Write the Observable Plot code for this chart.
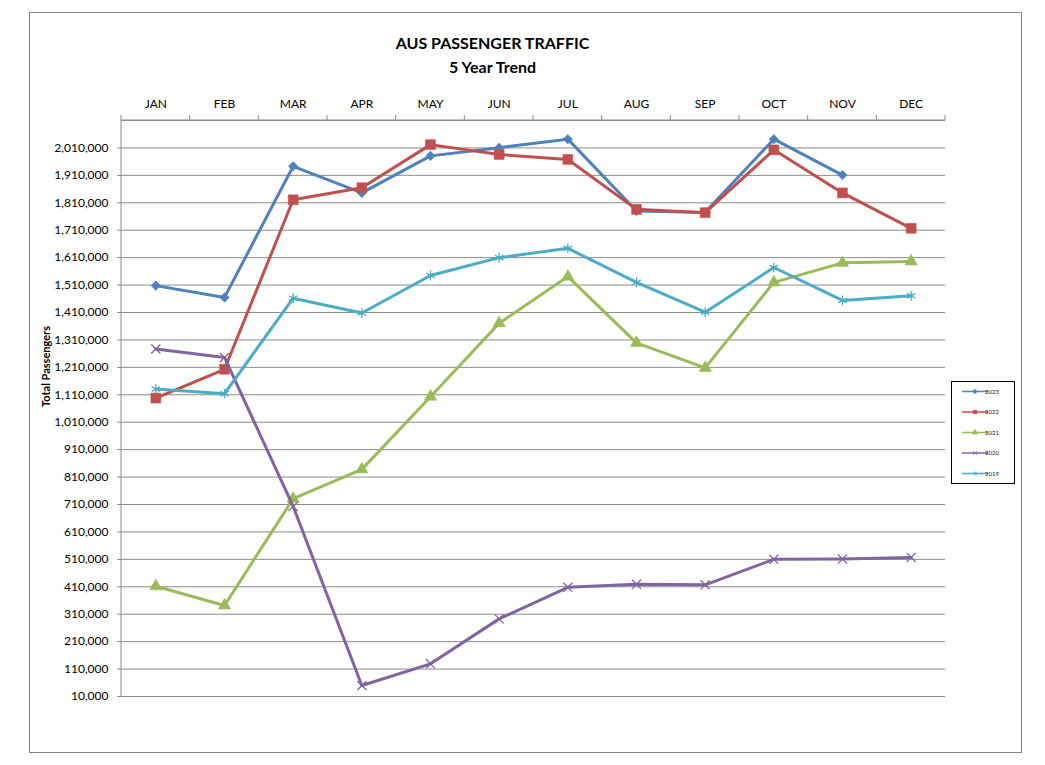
<!DOCTYPE html>
<html><head><meta charset="utf-8">
<script src="https://cdn.jsdelivr.net/npm/d3@7"></script>
<script src="https://cdn.jsdelivr.net/npm/@observablehq/plot@0.6"></script>
<style>body{margin:0;background:#fff}</style>
</head><body><div id="chart"></div>
<script>
const months = ["JAN","FEB","MAR","APR","MAY","JUN","JUL","AUG","SEP","OCT","NOV","DEC"];
const years = ["2023","2022","2021","2020","2019"];
const v2023 = [1508000,1465000,1943000,1846000,1981000,2011000,2042000,1780000,1775000,2042000,1911000,null];
const v2022 = [1098000,1203000,1821000,1865000,2022000,1986000,1968000,1786000,1774000,2003000,1846000,1717000];
const v2021 = [412000,342000,731000,838000,1103000,1371000,1541000,1299000,1208000,1520000,1591000,1596000];
const v2020 = [1277000,1246000,703000,50000,129000,293000,408000,419000,417000,510000,511000,517000];
const v2019 = [1131000,1114000,1462000,1408000,1545000,1610000,1644000,1520000,1411000,1574000,1454000,1471000];
const yMin = 10000, yMax = 2110000, yStep = 100000, yLastLabel = 2010000;
const yTicks = d3.range(yMin, yLastLabel + 1, yStep);
const gridTicks = d3.range(yMin, yMax + 1, yStep);
const title = "AUS PASSENGER TRAFFIC";
const subtitle = "5 Year Trend";
const yLabel = "Total Passengers";

const seriesValues = {"2023": v2023, "2022": v2022, "2021": v2021, "2020": v2020, "2019": v2019};
const colors = {"2023":"#4F81BD","2022":"#C0504D","2021":"#9BBB59","2020":"#8064A2","2019":"#4BACC6"};
const symbols = {"2023":"diamond2","2022":"square","2021":"triangle","2020":"times","2019":"asterisk"};
const symR = {"2023":4.3,"2022":5.6,"2021":4.6,"2020":4.2,"2019":4.6};
const filled = {"2023":true,"2022":true,"2021":true,"2020":false,"2019":false};

const rows = [];
for (const yr of years) seriesValues[yr].forEach((v, i) => rows.push({year: yr, month: months[i], value: v}));

const seriesMarks = [];
for (const yr of years) {
  const data = rows.filter(d => d.year === yr);
  seriesMarks.push(Plot.line(data, {x: "month", y: "value", stroke: colors[yr], strokeWidth: 3, strokeLinejoin: "round"}));
  seriesMarks.push(Plot.dot(data.filter(d => d.value != null), {
    x: "month", y: "value", symbol: symbols[yr], r: symR[yr],
    fill: filled[yr] ? colors[yr] : "none", stroke: colors[yr], strokeWidth: filled[yr] ? 0.5 : 1.3
  }));
}

const chart = Plot.plot({
  width: 1045, height: 765,
  marginLeft: 121, marginRight: 100, marginTop: 120, marginBottom: 69,
  style: {fontFamily: "Lato, sans-serif", fontSize: "12px", color: "#000", background: "#fff"},
  x: {type: "point", domain: months, padding: 0.5, round: false},
  y: {domain: [yMin, yMax]},
  marks: [
    Plot.gridY(gridTicks, {stroke: "#8c8c8c", strokeOpacity: 1}),
    Plot.axisY(yTicks, {tickFormat: d3.format(","), tickSize: 4, tickPadding: 9, stroke: "#8c8c8c", label: null, fill: "#000"}),
    Plot.axisX({anchor: "top", tickSize: 0, tickPadding: 13, label: null, fill: "#000"}),
    ...seriesMarks,
    Plot.text([title], {frameAnchor: "top", lineAnchor: "middle", textAnchor: "middle", dx: -41, dy: -77, fontWeight: "bold", fontSize: 16, fill: "#000"}),
    Plot.text([subtitle], {frameAnchor: "top", lineAnchor: "middle", textAnchor: "middle", dx: -41, dy: -53, fontWeight: "bold", fontSize: 16, fill: "#000"}),
    Plot.text([yLabel], {frameAnchor: "left", textAnchor: "middle", lineAnchor: "middle", rotate: -90, dx: -75, dy: -42, fontWeight: "bold", fontSize: 11, fill: "#000"})
  ]
});
document.getElementById("chart").appendChild(chart);

const svg = d3.select(chart);
const xs = chart.scale("x"), ys = chart.scale("y");
const step = xs.apply(months[1]) - xs.apply(months[0]);
const x0 = xs.apply(months[0]) - step / 2, x1 = x0 + months.length * step;
const yTop = ys.apply(yMax), yBot = ys.apply(yMin);
const deco = svg.append("g").attr("stroke", "#8c8c8c").attr("fill", "none");
deco.append("line").attr("x1", x0).attr("x2", x1).attr("y1", yTop).attr("y2", yTop);
deco.append("line").attr("x1", x0).attr("x2", x0).attr("y1", yTop).attr("y2", yBot);
for (let i = 0; i <= months.length; i++) {
  deco.append("line").attr("x1", x0 + i * step).attr("x2", x0 + i * step).attr("y1", yTop).attr("y2", yTop - 5);
}
// outer chart border
svg.append("rect").attr("x", 29.5).attr("y", 12.5).attr("width", 992).attr("height", 740)
  .attr("fill", "none").attr("stroke", "#888");

// legend
const lg = svg.append("g");
lg.append("rect").attr("x", 951.5).attr("y", 381.5).attr("width", 63).attr("height", 102)
  .attr("fill", "#fff").attr("stroke", "#000");
const d3sym = {"diamond2": d3.symbolDiamond2, "square": d3.symbolSquare, "triangle": d3.symbolTriangle, "times": d3.symbolTimes, "asterisk": d3.symbolAsterisk};
years.forEach((yr, i) => {
  const yy = 391.5 + i * 20.5;
  lg.append("line").attr("x1", 962).attr("x2", 988).attr("y1", yy).attr("y2", yy)
    .attr("stroke", colors[yr]).attr("stroke-width", 1.5);
  lg.append("path").attr("transform", `translate(975,${yy})`)
    .attr("d", d3.symbol(d3sym[symbols[yr]], 12)())
    .attr("fill", filled[yr] ? colors[yr] : "none").attr("stroke", colors[yr]).attr("stroke-width", 0.8);
  lg.append("text").attr("x", 992).attr("y", yy).attr("dy", "0.35em")
    .attr("font-size", 6).attr("fill", "#222").text(yr);
});
</script>
</body></html>
